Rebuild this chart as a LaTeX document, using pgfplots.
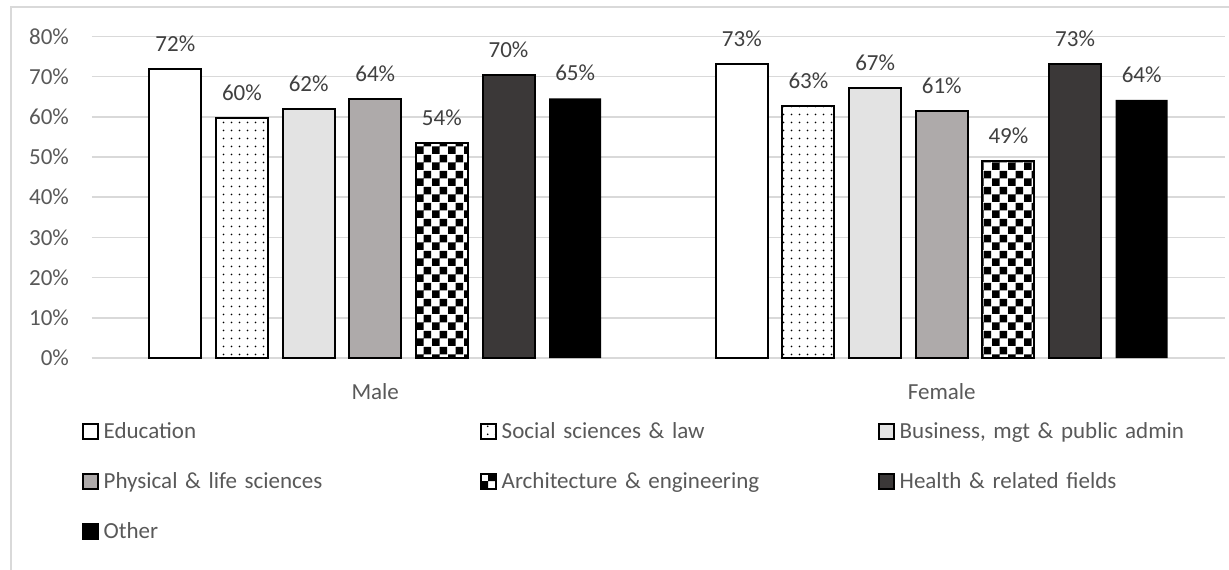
\documentclass[border=0pt]{standalone}
\usepackage{pgfplots}
\pgfplotsset{compat=1.18}
\usepackage{fontspec}
\setmainfont{Carlito}
\usetikzlibrary{patterns,patterns.meta}
\definecolor{gridgray}{HTML}{D9D9D9}
\definecolor{ticktext}{HTML}{595959}
\definecolor{labeltext}{HTML}{404040}
\definecolor{busfill}{HTML}{E3E3E3}
\definecolor{physfill}{HTML}{AEAAAA}
\definecolor{healthfill}{HTML}{3B3838}
\pgfdeclarepatternformonly{bigcheck}{\pgfpointorigin}{\pgfqpoint{8pt}{8pt}}{\pgfqpoint{8pt}{8pt}}{%
  \pgfpathrectangle{\pgfpointorigin}{\pgfqpoint{4pt}{4pt}}%
  \pgfpathrectangle{\pgfqpoint{4pt}{4pt}}{\pgfqpoint{4pt}{4pt}}%
  \pgfusepath{fill}}
\newcommand\lblfont{\fontsize{11.5}{13.8}\selectfont}
\begin{document}
\begin{tikzpicture}
\path[use as bounding box] (-46pt,-105.5pt) rectangle (568.5pt,179pt);
\fill[white] (-46pt,-105.5pt) rectangle (568.5pt,179pt);
\draw[gridgray, line width=0.75pt] (-40.5pt,-106pt) -- (-40.5pt,175.5pt) -- (569pt,175.5pt);
\begin{axis}[
  at={(0,0)}, anchor=south west,
  scale only axis, width=566.5pt, height=160.8pt,
  ybar, bar width=0.0918,
  xmin=-0.5, xmax=1.5, ymin=0, ymax=80,
  xtick={0,1}, xticklabels={Male,Female},
  ytick={0,10,...,80},
  yticklabel={\pgfmathprintnumber[assume math mode=true]{\tick}\%},
  ymajorgrids, grid style={draw=gridgray, line width=0.75pt},
  axis lines*=left,
  y axis line style={draw=none},
  x axis line style={draw=gridgray, line width=0.75pt, -},
  tick style={draw=none},
  tick label style={font=\lblfont, text=ticktext},
  xticklabel style={yshift=-4.8pt},
  yticklabel style={xshift=-8pt},
  nodes near coords={\pgfmathprintnumber[fixed,precision=0,assume math mode=true]{\pgfplotspointmeta}\%},
  nodes near coords style={font=\lblfont, text=labeltext, anchor=south, yshift=5pt},
  every axis plot/.append style={line width=1pt},
  legend columns=3,
  legend cell align=left,
  legend image code/.code={\draw[#1] (0pt,-3.75pt) rectangle (7.5pt,3.75pt);},
  legend style={at={(axis description cs:-0.00909,-0.1928)}, anchor=north west,
    draw=none, fill=none, inner sep=0pt, outer sep=0pt,
    font=\lblfont, text=ticktext,
    nodes={inner sep=0pt, text height=9pt, text depth=2pt, text width=188pt, align=left},
    /tikz/every odd column/.append style={column sep=2.5pt},
    /tikz/every even column/.append style={column sep=0pt},
    row sep=14pt},
]
\addplot[draw=black, fill=white, bar shift=-0.3529] coordinates {(0,71.8) (1,73.1)};
\addplot[draw=black, fill=white, postaction={pattern={Dots[distance=4pt, radius=0.5pt]}, pattern color=black}, bar shift=-0.2353] coordinates {(0,59.7) (1,62.6)};
\addplot[draw=black, fill=busfill, bar shift=-0.1176] coordinates {(0,61.9) (1,67.1)};
\addplot[draw=black, fill=physfill, bar shift=0] coordinates {(0,64.4) (1,61.4)};
\addplot[draw=black, fill=white, postaction={pattern=bigcheck, pattern color=black}, bar shift=0.1176] coordinates {(0,53.5) (1,49.0)};
\addplot[draw=black, fill=healthfill, bar shift=0.2353] coordinates {(0,70.3) (1,73.1)};
\addplot[draw=none, fill=black, bar shift=0.3529] coordinates {(0,64.6) (1,64.2)};
\legend{Education, Social sciences \& law, Business{,} mgt \& public admin, Physical \& life sciences, Architecture \& engineering, Health \& related fields, Other}
\end{axis}
\end{tikzpicture}
\end{document}
